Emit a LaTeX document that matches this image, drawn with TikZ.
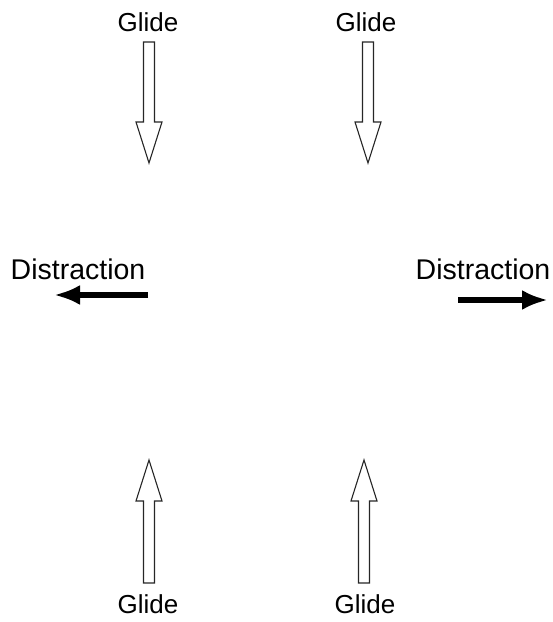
\documentclass[tikz,border=0pt]{standalone}
\usepackage{fontspec}
\setmainfont{Liberation Sans}
\usetikzlibrary{arrows.meta}

\tikzset{
  glidelabel/.style={font=\fontsize{26}{28}\selectfont, anchor=base, inner sep=0pt},
  distlabel/.style={font=\fontsize{28.5}{30}\selectfont, anchor=base, inner sep=0pt},
  hollow/.style={draw=black!85, line width=1.1pt, fill=white, line join=miter},
  pull/.style={line width=6.5pt, -{Latex[length=26pt,width=20pt]}}
}

% hollow arrow: #1 = centre x, #2 = tail y, #3 = tip y
\newcommand{\glidearrow}[3]{%
  \pgfmathsetmacro{\headbase}{#3+(#2>#3 ? 41 : -41)}
  \draw[hollow] (#1-5.5,#2) -- (#1-5.5,\headbase) -- (#1-13,\headbase) -- (#1,#3)
    -- (#1+13,\headbase) -- (#1+5.5,\headbase) -- (#1+5.5,#2) -- cycle;
}

\begin{document}
\begin{tikzpicture}[x=1pt,y=1pt]
\useasboundingbox (0,0) rectangle (553,622);

% labels
\node[glidelabel] (glideTL) at (148,590) {Glide};
\node[glidelabel] (glideTR) at (366,590) {Glide};
\node[glidelabel] (glideBL) at (148,9) {Glide};
\node[glidelabel] (glideBR) at (365,9) {Glide};
\node[distlabel] (distL) at (78,342) {Distraction};
\node[distlabel] (distR) at (483,342) {Distraction};

% glide arrows
\glidearrow{149}{580}{459}
\glidearrow{368}{580}{459}
\glidearrow{149}{39}{162}
\glidearrow{364}{39}{162}

% distraction arrows
\coordinate (distLfrom) at (148,327);
\coordinate (distLto) at (54,327);
\coordinate (distRfrom) at (458,322);
\coordinate (distRto) at (548,322);
\draw[pull] (distLfrom) -- (distLto);
\draw[pull] (distRfrom) -- (distRto);
\end{tikzpicture}
\end{document}
